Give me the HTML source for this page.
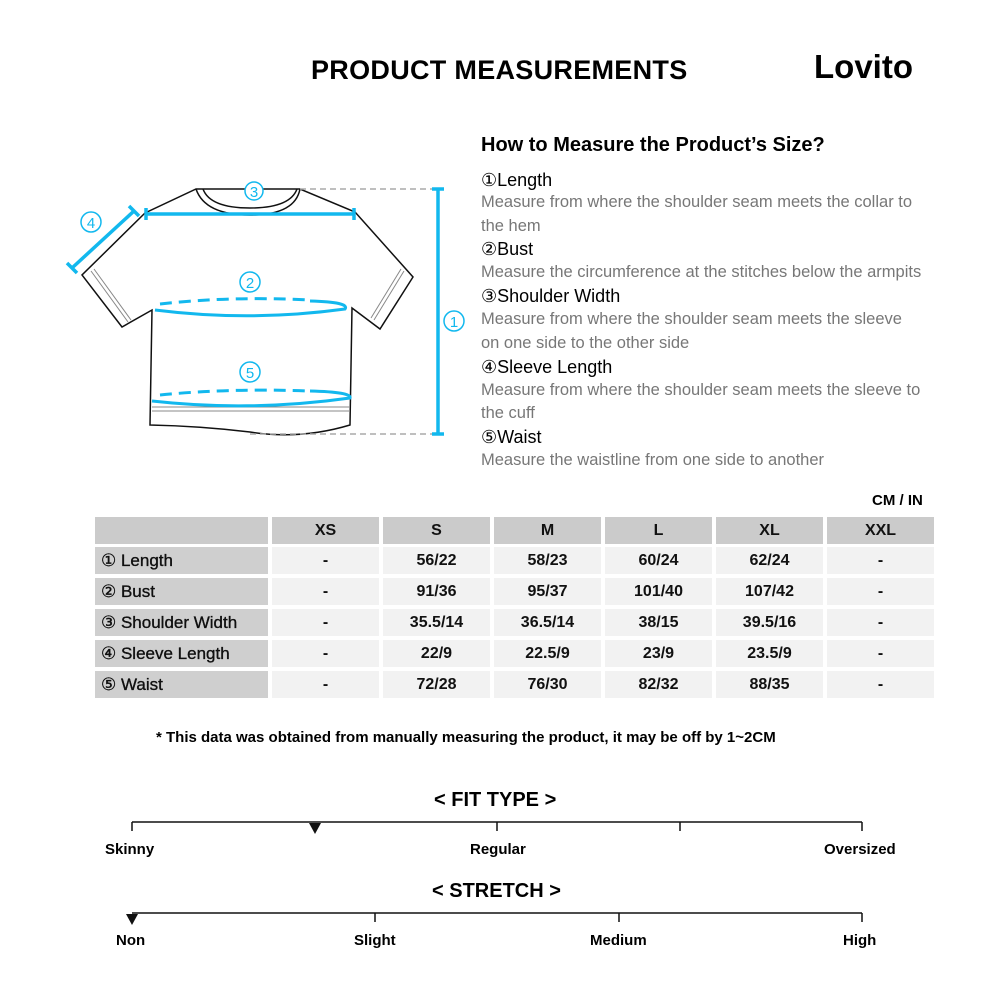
<!DOCTYPE html>
<html><head><meta charset="utf-8"><style>
body{margin:0;width:1000px;height:1000px;background:#fff;position:relative;font-family:"Liberation Sans",sans-serif;overflow:hidden}
.a{position:absolute;white-space:nowrap}
.c{position:absolute;display:flex;align-items:center;justify-content:center;font-weight:bold;font-size:16px;color:#111}
.h{background:#cbcbcb}.l{background:#cfcfcf;justify-content:flex-start;padding-left:6px;box-sizing:border-box;font-size:17px;font-weight:normal;-webkit-text-stroke:0.3px #000}.v{background:#f2f2f2}
.t{font-size:18px;color:#000}.d{font-size:16.5px;color:#777}
</style></head><body>
<div class="a" style="left:311px;top:55px;font-size:27px;font-weight:bold;letter-spacing:0.3px">PRODUCT MEASUREMENTS</div>
<div class="a" style="left:814px;top:48px;font-size:33px;font-weight:bold">Lovito</div>
<div class="a" style="left:481px;top:134px;font-size:20px;font-weight:bold">How to Measure the Product’s Size?</div>
<div class="a t" style="left:481px;top:170px">①Length</div>
<div class="a d" style="left:481px;top:193px">Measure from where the shoulder seam meets the collar to</div>
<div class="a d" style="left:481px;top:217px">the hem</div>
<div class="a t" style="left:481px;top:239px">②Bust</div>
<div class="a d" style="left:481px;top:263px">Measure the circumference at the stitches below the armpits</div>
<div class="a t" style="left:481px;top:286px">③Shoulder Width</div>
<div class="a d" style="left:481px;top:310px">Measure from where the shoulder seam meets the sleeve</div>
<div class="a d" style="left:481px;top:334px">on one side to the other side</div>
<div class="a t" style="left:481px;top:357px">④Sleeve Length</div>
<div class="a d" style="left:481px;top:381px">Measure from where the shoulder seam meets the sleeve to</div>
<div class="a d" style="left:481px;top:404px">the cuff</div>
<div class="a t" style="left:481px;top:427px">⑤Waist</div>
<div class="a d" style="left:481px;top:451px">Measure the waistline from one side to another</div>
<svg class="a" style="left:0;top:0" width="480" height="460">
<g fill="none" stroke="#111" stroke-width="1.5">
<path d="M196 189 L300 189 L355 212 L413 277 L380 329 L352 308 L350 425 Q300 440 250 432 Q200 426 150 425 L152 310 L122 327 L82 275 L145 213 Z"/>
<path d="M196 189 Q205 215 250 215 Q295 215 300 189"/>
<path d="M203 189 Q210 208 250 208 Q290 208 297 189"/>
<path d="M152 407 L350 407 M152 411 L350 411" stroke="#888" stroke-width="1"/>
<path d="M91 271 L128 322 M94 269 L131 320 M404 271 L374 320 M401 269 L371 318" stroke="#888" stroke-width="1"/>
</g>
<g stroke="#aaa" stroke-dasharray="6 4" stroke-width="1.5"><line x1="300" y1="189" x2="438" y2="189"/><line x1="250" y1="434" x2="438" y2="434"/></g>
<g stroke="#12b8ee" stroke-width="3.5" fill="none">
<line x1="438" y1="189" x2="438" y2="434"/><line x1="432" y1="189" x2="444" y2="189"/><line x1="432" y1="434" x2="444" y2="434"/>
<line x1="146" y1="214" x2="354" y2="214"/><line x1="146" y1="208" x2="146" y2="220"/><line x1="354" y1="208" x2="354" y2="220"/>
<line x1="72" y1="268" x2="134" y2="211"/><line x1="67" y1="263" x2="77" y2="273"/><line x1="129" y1="206" x2="139" y2="216"/>
<path d="M155 310 Q250 322 345 309 Q350 302 310 301" stroke-width="3"/>
<path d="M160 304 Q230 296 310 300" stroke-width="3" stroke-dasharray="12 7"/>
<path d="M152 401 Q250 412 350 398 Q352 392 310 391" stroke-width="3"/>
<path d="M160 395 Q230 388 310 391" stroke-width="3" stroke-dasharray="12 7"/>
</g>
<g fill="#fff" stroke="#12b8ee" stroke-width="1.5">
<circle cx="254" cy="191" r="9"/><circle cx="250" cy="282" r="10"/><circle cx="250" cy="372" r="10"/><circle cx="91" cy="222" r="10"/><circle cx="454" cy="321" r="10"/>
</g>
<g fill="#12b8ee" font-size="15" text-anchor="middle" font-family="Liberation Sans">
<text x="254" y="197">3</text><text x="250" y="288">2</text><text x="250" y="378">5</text><text x="91" y="228">4</text><text x="454" y="327">1</text>
</g>
</svg>
<div class="a" style="left:872px;top:492px;font-size:15px;font-weight:bold">CM / IN</div>
<div id="tb"></div>
<div class="a" style="left:156px;top:729px;font-size:15px;font-weight:bold">* This data was obtained from manually measuring the product, it may be off by 1~2CM</div>
<div class="a" style="left:434px;top:789px;font-size:20px;font-weight:bold">&lt; FIT TYPE &gt;</div>
<div class="a" style="left:432px;top:880px;font-size:20px;font-weight:bold">&lt; STRETCH &gt;</div>
<svg class="a" style="left:0;top:0" width="1000" height="1000">
<g stroke="#111" stroke-width="1.5">
<line x1="132" y1="822" x2="862" y2="822"/><line x1="132" y1="822" x2="132" y2="831"/><line x1="497" y1="822" x2="497" y2="831"/><line x1="680" y1="822" x2="680" y2="831"/><line x1="862" y1="822" x2="862" y2="831"/>
<line x1="132" y1="913" x2="862" y2="913"/><line x1="375" y1="913" x2="375" y2="922"/><line x1="619" y1="913" x2="619" y2="922"/><line x1="862" y1="913" x2="862" y2="922"/>
</g>
<polygon points="309,823 321,823 315,834" fill="#111"/>
<polygon points="126,914 138,914 132,925" fill="#111"/>
</svg>
<div class="a" style="left:105px;top:841px;font-size:15px;font-weight:bold">Skinny</div>
<div class="a" style="left:470px;top:841px;font-size:15px;font-weight:bold">Regular</div>
<div class="a" style="left:824px;top:841px;font-size:15px;font-weight:bold">Oversized</div>
<div class="a" style="left:116px;top:932px;font-size:15px;font-weight:bold">Non</div>
<div class="a" style="left:354px;top:932px;font-size:15px;font-weight:bold">Slight</div>
<div class="a" style="left:590px;top:932px;font-size:15px;font-weight:bold">Medium</div>
<div class="a" style="left:843px;top:932px;font-size:15px;font-weight:bold">High</div>
<script>
var xs=[272,383,494,605,716,827],ys=[547,578,609,640,671];
var hd=["XS","S","M","L","XL","XXL"];
var lb=["① Length","② Bust","③ Shoulder Width","④ Sleeve Length","⑤ Waist"];
var d=[["-","56/22","58/23","60/24","62/24","-"],["-","91/36","95/37","101/40","107/42","-"],["-","35.5/14","36.5/14","38/15","39.5/16","-"],["-","22/9","22.5/9","23/9","23.5/9","-"],["-","72/28","76/30","82/32","88/35","-"]];
var h='<div class="c h" style="left:95px;top:517px;width:173px;height:27px"></div>';
xs.forEach(function(x,i){h+='<div class="c h" style="left:'+x+'px;top:517px;width:107px;height:27px">'+hd[i]+'</div>';});
ys.forEach(function(y,r){h+='<div class="c l" style="left:95px;top:'+y+'px;width:173px;height:27px">'+lb[r]+'</div>';
xs.forEach(function(x,i){h+='<div class="c v" style="left:'+x+'px;top:'+y+'px;width:107px;height:27px">'+d[r][i]+'</div>';});});
document.getElementById('tb').innerHTML=h;
</script>
</body></html>
